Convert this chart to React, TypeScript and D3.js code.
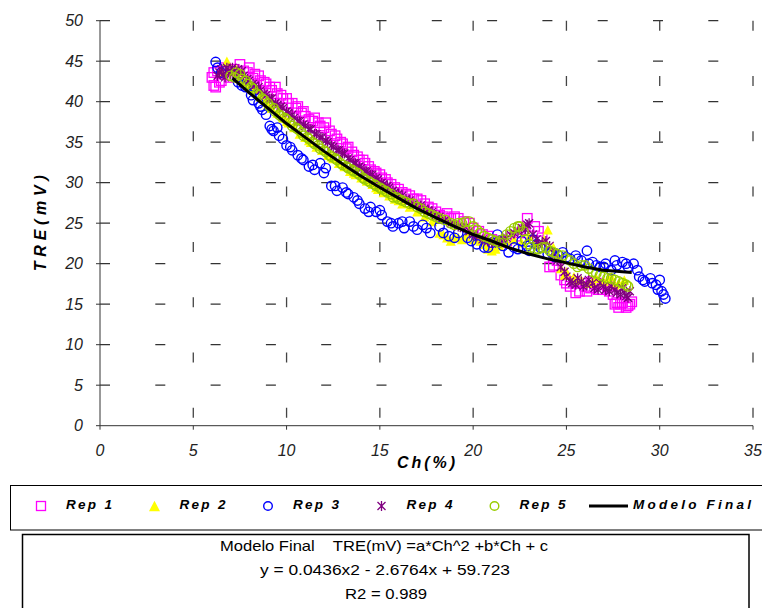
import React from "react";
import * as d3 from "d3";

const xTicks = [0, 5, 10, 15, 20, 25, 30, 35];
const yTicks = [0, 5, 10, 15, 20, 25, 30, 35, 40, 45, 50];

const rep1: [number, number][] = [
  [6.0, 43.0], [6.1, 42.0], [6.3, 43.8], [6.5, 42.6], [6.7, 44.2], [7.0, 43.0], [7.5, 44.6], [7.9, 43.6],
  [8.2, 42.9], [6.1, 43.6], [6.2, 41.8], [6.4, 42.4], [6.6, 43.4], [6.8, 43.8], [7.2, 44.0], [7.7, 43.8],
  [8.0, 44.2], [8.3, 43.4],
  [8.5, 43.2], [8.6, 42.6], [8.8, 42.4], [8.9, 42.2], [9.1, 41.8], [9.2, 41.4], [9.4, 41.8], [9.5, 41.0],
  [9.7, 40.8], [9.8, 40.4], [10.0, 40.4], [10.1, 39.8], [10.3, 39.8], [10.5, 39.2], [10.6, 39.4], [10.8, 38.6],
  [10.9, 38.8], [11.0, 38.2], [11.2, 37.8], [11.4, 37.6], [11.5, 38.0], [11.7, 37.4], [11.8, 37.0], [12.0, 36.8],
  [12.1, 37.4], [12.3, 36.4], [12.4, 36.0], [12.6, 35.8], [12.7, 35.4], [12.9, 35.0], [13.0, 34.8], [13.2, 34.2],
  [13.3, 34.4], [13.5, 33.8], [13.6, 33.4], [13.8, 33.2], [13.9, 32.8], [14.1, 32.8], [14.2, 32.4], [14.4, 32.0],
  [14.5, 31.6], [14.7, 31.4], [14.8, 31.2], [15.0, 31.0], [15.1, 30.6], [15.3, 30.4], [15.4, 30.0], [15.6, 29.8],
  [15.8, 29.4], [16.0, 29.2], [16.2, 28.8], [16.4, 28.6], [16.6, 28.4], [16.8, 28.0], [17.0, 28.0], [17.2, 27.8],
  [17.4, 27.4], [17.6, 27.0], [17.8, 26.8],
  [18.0, 26.4], [18.2, 26.0], [18.4, 25.8], [18.6, 26.2], [18.8, 25.6], [19.0, 25.8], [19.2, 25.6], [19.5, 25.2],
  [19.8, 25.0], [20.0, 24.4], [20.3, 24.0], [20.5, 23.6], [20.8, 23.4], [21.0, 23.0], [21.3, 22.8], [21.5, 22.6],
  [21.8, 22.8], [22.0, 23.2], [22.3, 23.4], [22.5, 23.8], [22.7, 24.2], [22.9, 25.6], [23.3, 24.6], [23.5, 24.0],
  [23.7, 23.2], [24.1, 19.6], [24.3, 19.8], [24.5, 20.4], [24.7, 18.6], [24.9, 18.0], [25.0, 17.6], [25.2, 17.2],
  [25.4, 17.8], [25.5, 16.4], [25.7, 16.6], [25.8, 17.6], [26.0, 17.2], [26.1, 16.6], [26.3, 17.0], [26.4, 17.8],
  [26.6, 17.6], [26.7, 16.8], [26.9, 16.8], [27.0, 17.4], [27.2, 17.2], [27.3, 16.6], [27.5, 16.2], [27.6, 15.0],
  [27.7, 15.2], [27.8, 14.6], [27.9, 15.0], [28.0, 15.2], [28.2, 14.6], [28.3, 14.8], [28.4, 15.0], [28.5, 15.3],
];

const rep2: [number, number][] = [
  [6.5, 43.6], [6.8, 45.0], [7.0, 43.8], [7.3, 44.0], [7.6, 42.8], [8.0, 42.0], [8.3, 41.4], [8.6, 40.6],
  [8.9, 40.0], [9.2, 39.2], [9.5, 38.6], [9.8, 38.0], [10.1, 37.4], [10.4, 36.8], [10.7, 36.0], [11.0, 35.6],
  [11.3, 35.0], [11.6, 34.4], [11.9, 34.0], [12.2, 33.4], [12.5, 33.0], [12.8, 32.4], [13.1, 32.0], [13.4, 31.4],
  [13.7, 31.0], [14.0, 30.6], [14.3, 30.2], [14.6, 29.8], [14.9, 29.2], [15.2, 28.8], [15.5, 28.4], [15.8, 28.0],
  [16.2, 27.4], [16.6, 27.0], [17.0, 26.4], [17.4, 25.8], [17.8, 25.2], [18.2, 23.8], [18.6, 23.2], [19.0, 23.4],
  [19.4, 23.0], [19.8, 24.0], [20.2, 23.2], [20.6, 22.4], [21.0, 21.6], [21.4, 22.2], [21.8, 22.6], [22.2, 23.0],
  [22.6, 22.6], [23.0, 23.4], [23.4, 22.8], [23.8, 23.0], [24.0, 24.2], [24.3, 22.0], [24.7, 19.4], [25.0, 19.0],
  [25.4, 18.4], [25.8, 18.0], [26.2, 17.6], [26.6, 18.2], [27.0, 17.8], [27.4, 18.4], [27.8, 17.6], [28.1, 18.0],
  [18.4, 23.6], [18.8, 22.8], [19.2, 23.2], [19.6, 23.4], [20.0, 23.0], [20.4, 22.8], [20.8, 21.8], [21.2, 21.8],
  [9.0, 39.6], [10.0, 37.6], [11.2, 35.2], [12.4, 33.2], [13.6, 31.2], [14.8, 29.4], [16.0, 27.8], [24.9, 18.6],
  [25.6, 18.0], [26.4, 17.8], [27.2, 18.0], [27.6, 17.4], [7.9, 42.4], [8.4, 41.4],
];

const rep3: [number, number][] = [
  [6.2, 44.9], [6.3, 44.2], [6.5, 43.6], [7.4, 42.4], [7.8, 41.8], [8.1, 40.8], [8.3, 41.4], [8.5, 39.8],
  [8.7, 39.0], [8.9, 38.4], [9.1, 37.0], [9.3, 36.4], [9.5, 36.8], [9.8, 35.4], [10.0, 34.6], [10.3, 34.0],
  [10.6, 33.4], [10.9, 32.8], [11.2, 32.0], [11.5, 31.6], [11.8, 32.4], [12.1, 31.8], [12.4, 29.6], [12.7, 29.0],
  [13.0, 29.4], [13.3, 28.6], [13.6, 28.2], [13.9, 27.4], [14.2, 26.8], [14.5, 27.0], [14.8, 26.4], [15.1, 26.0],
  [15.4, 25.2], [15.7, 24.6], [16.0, 25.0], [16.3, 24.4], [16.6, 25.2], [17.0, 24.2], [17.3, 24.8], [17.7, 23.8],
  [18.2, 24.6], [18.7, 23.4], [19.2, 23.8], [19.7, 23.2], [20.2, 22.4], [20.6, 22.0], [21.0, 22.6], [21.3, 23.6],
  [21.6, 22.2], [21.9, 21.4], [22.2, 22.0], [22.6, 22.8], [22.9, 22.2], [23.2, 23.0], [23.6, 22.0], [24.0, 21.2],
  [24.4, 20.8], [24.8, 21.4], [25.2, 20.6], [25.5, 21.0], [25.8, 20.4], [26.1, 21.6], [26.4, 20.2], [26.8, 19.6],
  [27.1, 20.0], [27.4, 19.2], [27.7, 19.8], [28.0, 20.2], [28.3, 19.6], [28.6, 20.0], [28.9, 18.4], [29.2, 17.8],
  [29.5, 18.2], [29.8, 17.4], [30.0, 18.0], [30.1, 16.6], [30.2, 16.2], [30.3, 15.7],
  [7.6, 42.0], [8.2, 40.2], [8.6, 39.4], [9.2, 36.6], [9.6, 35.8], [10.2, 34.4], [10.8, 33.0], [11.4, 32.2],
  [12.0, 31.2], [12.6, 29.6], [13.2, 28.8], [13.8, 27.8], [14.4, 26.4], [15.0, 26.6], [15.6, 25.0], [16.2, 25.2],
  [16.8, 24.6], [17.5, 24.4], [18.4, 23.8], [19.0, 23.2], [19.9, 22.8], [20.8, 22.0], [21.4, 22.8], [22.4, 21.8],
  [23.0, 21.6], [23.4, 22.4], [24.2, 21.4], [24.6, 21.0], [25.0, 20.8], [25.6, 20.6], [26.2, 20.0], [26.6, 19.8],
  [27.0, 19.6], [27.6, 20.4], [28.2, 20.0], [28.8, 19.2], [29.1, 18.0], [29.6, 17.6], [29.9, 16.8],
];

const rep4: [number, number][] = [
  [6.3, 43.2], [6.4, 43.6], [6.5, 44.0], [6.6, 43.4], [6.7, 43.0], [6.8, 44.2], [6.9, 43.8], [7.0, 43.4],
  [7.1, 44.2], [7.2, 43.8], [7.3, 43.4], [7.4, 44.0], [7.6, 43.8], [7.7, 43.2], [7.9, 42.8],
  [8.0, 42.6], [8.2, 42.2], [8.3, 42.0], [8.5, 41.8], [8.6, 41.4], [8.8, 41.0], [8.9, 40.8], [9.1, 40.4],
  [9.2, 40.4], [9.4, 39.8], [9.5, 39.6], [9.7, 39.4], [9.8, 39.2], [10.0, 38.8], [10.1, 38.6], [10.3, 38.4],
  [10.4, 38.0], [10.6, 37.6], [10.7, 37.6], [10.9, 37.2], [11.0, 37.0], [11.2, 36.6], [11.3, 36.6], [11.5, 36.0],
  [11.6, 36.0], [11.8, 35.6], [11.9, 35.6], [12.1, 35.2], [12.2, 35.0], [12.4, 34.6], [12.5, 34.4], [12.7, 34.0],
  [12.8, 34.0], [13.0, 33.6], [13.1, 33.6], [13.3, 33.0], [13.4, 32.8], [13.6, 32.4], [13.7, 32.4], [13.9, 32.0],
  [14.0, 31.8], [14.2, 31.4], [14.3, 31.4], [14.5, 31.0], [14.6, 31.0], [14.8, 30.6], [14.9, 30.4], [15.1, 30.0],
  [15.2, 29.8], [15.4, 29.6], [15.5, 29.4], [15.7, 29.0], [15.8, 28.8], [16.0, 28.6], [16.2, 28.4], [16.4, 28.0],
  [16.6, 27.8], [16.8, 27.4], [17.0, 27.2], [17.2, 27.2], [17.4, 26.8], [17.6, 26.6], [17.8, 26.4], [18.0, 26.0],
  [18.2, 25.8],
  [18.5, 25.4], [18.8, 25.0], [19.0, 24.8], [19.2, 24.6], [19.5, 24.4], [19.8, 24.0], [20.0, 23.6], [20.2, 23.4],
  [20.5, 23.0], [20.8, 22.8], [21.0, 22.6], [21.2, 22.6], [21.4, 22.8], [21.6, 23.0], [21.8, 23.2], [22.0, 23.6],
  [22.2, 23.8], [22.4, 24.0], [22.6, 24.4], [22.8, 24.2], [22.9, 24.8], [23.0, 25.0], [23.2, 23.6], [23.4, 23.0],
  [23.5, 22.4], [23.7, 22.6], [23.9, 22.8], [24.1, 22.2], [24.3, 21.4], [24.5, 20.4], [24.7, 19.6], [24.9, 19.0],
  [25.0, 18.4], [25.2, 17.8], [25.3, 17.6], [25.5, 17.4], [25.6, 18.2], [25.8, 17.8], [25.9, 17.2], [26.1, 17.4],
  [26.2, 18.0], [26.4, 17.6], [26.5, 17.0], [26.7, 16.8], [26.8, 17.6], [27.0, 17.2], [27.1, 16.8], [27.3, 16.6],
  [27.4, 17.2], [27.6, 16.8], [27.7, 16.4], [27.9, 16.2], [28.0, 17.0], [28.1, 16.4], [28.2, 16.0], [28.3, 15.8],
  [28.4, 16.6],
];

const rep5: [number, number][] = [
  [7.0, 43.2], [7.3, 43.6], [7.6, 42.8], [7.9, 42.2], [8.2, 41.6], [8.5, 40.8], [8.8, 40.2], [9.1, 39.4],
  [9.4, 38.8], [9.7, 38.2], [10.0, 37.8], [10.3, 37.0], [10.6, 36.6], [10.9, 35.8], [11.2, 35.4], [11.5, 34.8],
  [11.8, 34.2], [12.1, 33.8], [12.4, 33.2], [12.7, 32.8], [13.0, 32.2], [13.3, 31.8], [13.6, 31.4], [13.9, 31.0],
  [14.2, 30.4], [14.5, 30.0], [14.8, 29.6], [15.1, 29.2], [15.4, 28.8], [15.7, 28.2], [16.0, 28.0], [16.4, 27.6],
  [16.8, 27.4], [17.2, 26.8], [17.6, 26.2], [18.0, 25.8], [18.5, 25.4], [19.0, 24.8], [19.4, 25.0], [19.8, 25.2],
  [20.2, 24.2], [20.6, 23.4], [21.0, 23.0], [21.4, 22.6], [21.8, 23.6], [22.2, 24.4], [22.5, 24.6], [22.8, 23.0],
  [23.1, 22.0], [23.5, 21.8], [23.9, 22.0], [24.3, 21.4], [24.8, 21.0], [25.2, 20.4], [25.6, 19.6], [26.0, 19.8],
  [26.4, 19.0], [26.8, 18.6], [27.2, 18.2], [27.6, 18.0], [28.0, 17.6], [28.3, 17.2],
  [7.2, 43.0], [7.5, 43.4], [7.8, 42.6], [8.1, 41.8], [8.4, 41.0], [8.7, 40.4], [9.0, 39.8], [9.3, 39.2],
  [9.6, 38.4], [9.9, 38.0], [10.2, 37.4], [10.5, 36.8], [10.8, 36.2], [11.1, 35.6], [11.4, 35.0], [11.7, 34.6],
  [12.0, 34.0], [12.3, 33.4], [12.6, 33.0], [12.9, 32.4], [13.2, 32.0], [13.5, 31.6], [13.8, 31.2], [14.1, 30.6],
  [14.4, 30.2], [14.7, 29.8], [15.0, 29.4], [15.3, 29.0], [15.6, 28.6], [15.9, 28.2], [16.2, 27.8], [16.6, 27.4],
  [17.0, 27.0], [17.4, 26.4], [17.8, 26.0], [18.2, 25.6], [18.8, 25.0], [19.2, 25.0], [19.6, 25.2], [20.0, 24.6],
  [20.4, 23.8], [20.8, 23.2], [21.2, 22.8], [21.6, 23.0], [22.0, 24.0], [22.4, 24.6], [22.7, 24.0], [23.0, 22.4],
  [23.3, 21.8], [23.7, 22.0], [24.1, 21.6], [24.5, 21.2], [25.0, 20.6], [25.4, 20.0], [25.8, 19.8], [26.2, 19.4],
  [26.6, 18.8], [27.0, 18.4], [27.4, 18.2], [27.8, 17.8], [28.2, 17.4],
];

const model: [number, number][] = [
  [7.1, 42.9], [8, 41.1], [9, 39.2], [10, 37.3], [11, 35.6], [12, 33.9], [13, 32.3], [14, 30.8],
  [15, 29.4], [16, 28.1], [17, 26.8], [18, 25.7], [19, 24.6], [20, 23.6], [21, 22.8], [22, 21.9],
  [23, 21.2], [24, 20.6], [25, 20.1], [26, 19.6], [27, 19.2], [28, 19.0], [28.5, 18.9],
];

const legendLabels = ["Rep 1", "Rep 2", "Rep 3", "Rep 4", "Rep 5", "Modelo Final"];
const boxLines = [
  "Modelo Final    TRE(mV) =a*Ch^2 +b*Ch + c",
  "y = 0.0436x2 - 2.6764x + 59.723",
  "R2 = 0.989",
];

const FONT = "Arial, 'Liberation Sans', sans-serif";

const C1 = "#FF00FF";
const C2 = "#FFFF00";
const C3 = "#0000FF";
const C4 = "#800080";
const C5 = "#99CC00";

function Square({ cx, cy, s = 9.5 }: { cx: number; cy: number; s?: number }) {
  return <rect x={cx - s / 2} y={cy - s / 2} width={s} height={s} fill="none" stroke={C1} strokeWidth={1.3} />;
}
function Tri({ cx, cy, s = 10 }: { cx: number; cy: number; s?: number }) {
  const h = s * 0.95;
  return <path d={`M${cx},${cy - h / 2}L${cx + s / 2},${cy + h / 2}L${cx - s / 2},${cy + h / 2}Z`} fill={C2} />;
}
function Circ({ cx, cy, color, r = 4.7 }: { cx: number; cy: number; color: string; r?: number }) {
  return <circle cx={cx} cy={cy} r={r} fill="none" stroke={color} strokeWidth={1.4} />;
}
function Star({ cx, cy, s = 5 }: { cx: number; cy: number; s?: number }) {
  const d = s * 0.8;
  return (
    <path
      d={`M${cx},${cy - s}L${cx},${cy + s}M${cx - d},${cy - d}L${cx + d},${cy + d}M${cx - d},${cy + d}L${cx + d},${cy - d}`}
      stroke={C4}
      strokeWidth={1.3}
      fill="none"
    />
  );
}

export default function App() {
  const x = d3.scaleLinear().domain([0, 35]).range([100, 753]);
  const y = d3.scaleLinear().domain([0, 50]).range([425.7, 20.7]);
  const line = d3
    .line<[number, number]>()
    .x((d) => x(d[0]))
    .y((d) => y(d[1]));

  const legendX = [41, 154.5, 268, 381.5, 494.5];
  const legendY = 506;

  return (
    <svg
      width={762}
      height={608}
      style={{ position: "absolute", left: 0, top: 0, background: "#fff" }}
      fontFamily={FONT}
    >
      <rect x={0} y={0} width={762} height={608} fill="#fff" />
      {yTicks.slice(1).map((t) => (
        <line key={"h" + t} x1={x(0)} x2={x(35)} y1={y(t)} y2={y(t)} stroke="#333" strokeWidth={1.3} strokeDasharray="10 45.3" />
      ))}
      {xTicks.slice(1).map((t) => (
        <line key={"v" + t} x1={x(t)} x2={x(t)} y1={y(50)} y2={y(0)} stroke="#444" strokeWidth={1.3} strokeDasharray="10 45.3" />
      ))}
      <line x1={x(0)} x2={x(0)} y1={y(50)} y2={y(0)} stroke="#333" strokeWidth={1} />
      <line x1={x(0)} x2={x(35)} y1={y(0)} y2={y(0)} stroke="#333" strokeWidth={1} />
      {yTicks.map((t) => (
        <g key={"yt" + t}>
          <line x1={x(0) - 4} x2={x(0)} y1={y(t)} y2={y(t)} stroke="#333" strokeWidth={1} />
          <text x={x(0) - 17} y={y(t)} dy="0.36em" textAnchor="end" fontSize={16} fontStyle="italic" fill="#222">
            {t}
          </text>
        </g>
      ))}
      {xTicks.map((t) => (
        <g key={"xt" + t}>
          <line x1={x(t)} x2={x(t)} y1={y(0)} y2={y(0) + 4} stroke="#333" strokeWidth={1} />
          <text x={x(t)} y={456} textAnchor="middle" fontSize={16} fontStyle="italic" fill="#222">
            {t}
          </text>
        </g>
      ))}
      <text x={397} y={468} fontSize={16} fontWeight="bold" fontStyle="italic" textLength={58} lengthAdjust="spacing">
        Ch(%)
      </text>
      <text
        transform={`translate(46,${(y(50) + y(0)) / 2}) rotate(-90)`}
        textAnchor="middle"
        fontSize={16}
        fontWeight="bold"
        fontStyle="italic"
        textLength={96}
        lengthAdjust="spacing"
      >
        TRE(mV)
      </text>
      <g>
        {rep1.map((d, i) => (
          <Square key={"a" + i} cx={x(d[0])} cy={y(d[1])} />
        ))}
      </g>
      <g>
        {rep2.map((d, i) => (
          <Tri key={"b" + i} cx={x(d[0])} cy={y(d[1])} />
        ))}
      </g>
      <g>
        {rep3.map((d, i) => (
          <Circ key={"c" + i} cx={x(d[0])} cy={y(d[1])} color={C3} />
        ))}
      </g>
      <g>
        {rep4.map((d, i) => (
          <Star key={"d" + i} cx={x(d[0])} cy={y(d[1])} />
        ))}
      </g>
      <g>
        {rep5.map((d, i) => (
          <Circ key={"e" + i} cx={x(d[0])} cy={y(d[1])} color={C5} />
        ))}
      </g>
      <path d={line(model) || ""} fill="none" stroke="#000" strokeWidth={3} strokeLinejoin="round" />
      <rect x={10.5} y={485.5} width={760} height={44.5} fill="none" stroke="#000" strokeWidth={1} />
      <Square cx={legendX[0]} cy={legendY} s={9} />
      <Tri cx={legendX[1]} cy={legendY} s={11} />
      <Circ cx={legendX[2]} cy={legendY} color={C3} r={4.3} />
      <Star cx={legendX[3]} cy={legendY} s={5} />
      <Circ cx={legendX[4]} cy={legendY} color={C5} r={4.3} />
      <line x1={589} x2={628} y1={legendY} y2={legendY} stroke="#000" strokeWidth={3} />
      {legendLabels.slice(0, 5).map((l, i) => (
        <text
          key={l}
          x={legendX[i] + 25}
          y={509}
          fontSize={13.5}
          fontWeight="bold"
          fontStyle="italic"
          textLength={46}
          lengthAdjust="spacing"
        >
          {l}
        </text>
      ))}
      <text x={633} y={509} fontSize={13.5} fontWeight="bold" fontStyle="italic" textLength={118} lengthAdjust="spacing">
        {legendLabels[5]}
      </text>
      <rect x={22.5} y={534.5} width={726.5} height={90} fill="#fff" stroke="#000" strokeWidth={1.5} />
      <text x={384} y={551} textAnchor="middle" fontSize={14.5} style={{ whiteSpace: "pre" }} textLength={328} lengthAdjust="spacingAndGlyphs">
        {boxLines[0]}
      </text>
      <text x={385} y={575} textAnchor="middle" fontSize={14.5} textLength={250} lengthAdjust="spacingAndGlyphs">
        {boxLines[1]}
      </text>
      <text x={386} y={599} textAnchor="middle" fontSize={14.5} textLength={82} lengthAdjust="spacingAndGlyphs">
        {boxLines[2]}
      </text>
    </svg>
  );
}
